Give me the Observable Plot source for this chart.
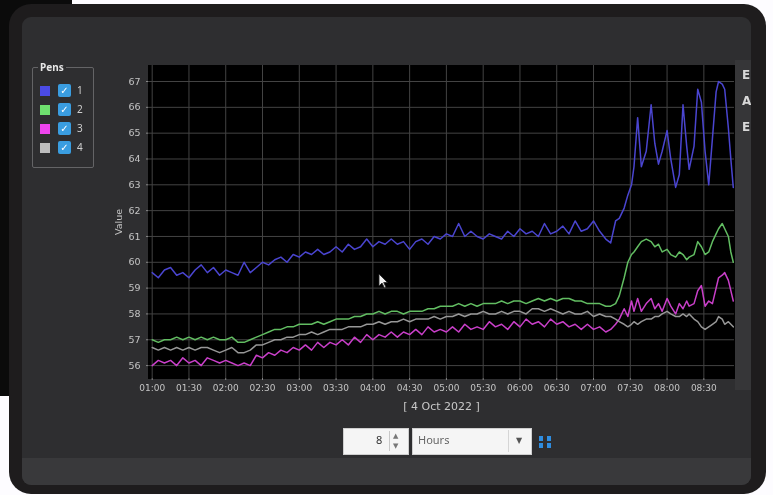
<!DOCTYPE html>
<html>
<head>
<meta charset="utf-8">
<script src="https://cdn.jsdelivr.net/npm/d3@7"></script>
<script src="https://cdn.jsdelivr.net/npm/@observablehq/plot@0.6"></script>
<style>
  html, body { margin: 0; padding: 0; background: #ffffff; }
  #root { position: relative; width: 773px; height: 495px; overflow: hidden; background: #fdfcff; font-family: "Noto Sans", "DejaVu Sans", sans-serif; filter: blur(0.35px); }
  .abs { position: absolute; }
  #behind { left: 0; top: 0; width: 72px; height: 396px; background: #0b0b0b; }
  #frame { left: 9px; top: 4px; width: 757px; height: 490px; background: #1e1c1d; border-radius: 22px; }
  #panel { left: 22px; top: 17px; width: 729px; height: 468px; background: #2e2e30; border-radius: 9px; overflow: hidden; }
  #band { left: 0; top: 441px; width: 729px; height: 27px; background: #39393b; }
  #rstrip { left: 735px; top: 60px; width: 16px; height: 330px; background: #363638; }
  #rtext { left: 742px; top: 62px; width: 9px; height: 80px; overflow: hidden; color: #d8d8d8; font: bold 12px "DejaVu Sans", sans-serif; line-height: 26px; }
  #chart { left: 0; top: 0; }
  #legend { left: 32px; top: 67px; width: 60px; height: 99px; border: 1px solid #646466; border-radius: 2px; }
  #legtitle { left: 38px; top: 61px; padding: 0 2px; background: #2e2e30; color: #e6e6e6; font: bold 10px "Noto Sans", sans-serif; line-height: 13px; }
  .sw { width: 10px; height: 10px; }
  .cb { width: 13px; height: 13px; background: #3a9de0; border-radius: 2px; color: #fff; font: bold 10px "DejaVu Sans", sans-serif; line-height: 13px; text-align: center; }
  .lb { color: #cfcfcf; font: 10px "Noto Sans", sans-serif; line-height: 13px; }
  #spin { left: 343px; top: 428px; width: 64px; height: 25px; background: #f5f5f5; border: 1px solid #cfcfcf; }
  #spinval { left: 376px; top: 432px; color: #333; font: 11px "Noto Sans", sans-serif; line-height: 16px; }
  #spinsep { left: 389px; top: 431px; width: 1px; height: 20px; background: #c8c8c8; }
  #drop { left: 412px; top: 428px; width: 118px; height: 25px; background: #f5f5f5; border: 1px solid #cfcfcf; }
  #droptxt { left: 418px; top: 432px; color: #666; font: 11px "Noto Sans", sans-serif; line-height: 16px; }
  #dropsep { left: 508px; top: 430px; width: 1px; height: 22px; background: #d5d5d5; }
  .tri { color: #777; font: 7px "DejaVu Sans", sans-serif; line-height: 8px; }
</style>
</head>
<body>
<div id="root">
  <div id="behind" class="abs"></div>
  <div id="frame" class="abs"></div>
  <div id="panel" class="abs"><div id="band" class="abs"></div></div>
  <div id="rstrip" class="abs"></div>
  <div id="rtext" class="abs">E<br>A<br>E</div>
  <div id="chart" class="abs"></div>

  <div id="legend" class="abs"></div>
  <div id="legtitle" class="abs">Pens</div>
  <div id="legrows"></div>

  <div id="spin" class="abs"></div>
  <div id="spinval" class="abs">8</div>
  <div id="spinsep" class="abs"></div>
  <div class="abs tri" style="left:393px;top:432px;">▲</div>
  <div class="abs tri" style="left:393px;top:442px;">▼</div>
  <div id="drop" class="abs"></div>
  <div id="droptxt" class="abs">Hours</div>
  <div id="dropsep" class="abs"></div>
  <div class="abs tri" style="left:516px;top:437px;color:#555;font-size:8px;">▼</div>
  <div class="abs" style="left:539px;top:436px;width:4px;height:5px;background:#2f8de0;"></div>
  <div class="abs" style="left:539px;top:443px;width:4px;height:5px;background:#2f8de0;"></div>
  <div class="abs" style="left:547px;top:436px;width:4px;height:5px;background:#2f8de0;"></div>
  <div class="abs" style="left:547px;top:443px;width:4px;height:5px;background:#2f8de0;"></div>

  <svg class="abs" style="left:378px;top:273px;" width="12" height="16" viewBox="0 0 12 16">
    <path d="M1 1 L1 13 L4 10 L6.5 15 L8 14.3 L5.7 9.5 L9.5 9.5 Z" fill="#f2f2f2" stroke="#222" stroke-width="0.8"/>
  </svg>
</div>

<script>
// ---- Data ----
const times = [
  "01:00","01:05","01:10","01:15","01:20","01:25","01:30","01:35","01:40","01:45","01:50","01:55",
  "02:00","02:05","02:10","02:15","02:20","02:25","02:30","02:35","02:40","02:45","02:50","02:55",
  "03:00","03:05","03:10","03:15","03:20","03:25","03:30","03:35","03:40","03:45","03:50","03:55",
  "04:00","04:05","04:10","04:15","04:20","04:25","04:30","04:35","04:40","04:45","04:50","04:55",
  "05:00","05:05","05:10","05:15","05:20","05:25","05:30","05:35","05:40","05:45","05:50","05:55",
  "06:00","06:05","06:10","06:15","06:20","06:25","06:30","06:35","06:40","06:45","06:50","06:55",
  "07:00","07:05","07:10",
  "07:14","07:18","07:21","07:25","07:28","07:31","07:33","07:36","07:39","07:43","07:47","07:50",
  "07:53","07:56","08:00","08:03","08:07","08:10","08:13","08:16","08:18","08:22","08:25","08:28",
  "08:31","08:34","08:37","08:40","08:42","08:45","08:47","08:50","08:52","08:54"
];

const pen1 = [
  59.6, 59.4, 59.7, 59.8, 59.5, 59.6, 59.4, 59.7, 59.9, 59.6, 59.8, 59.5,
  59.7, 59.6, 59.5, 60.0, 59.6, 59.8, 60.0, 59.9, 60.1, 60.2, 60.0, 60.3,
  60.2, 60.4, 60.3, 60.5, 60.3, 60.4, 60.6, 60.4, 60.7, 60.5, 60.6, 60.9,
  60.6, 60.8, 60.7, 60.9, 60.7, 60.8, 60.5, 60.8, 60.9, 60.7, 61.0, 60.9,
  61.1, 61.0, 61.5, 61.0, 61.2, 61.0, 60.9, 61.1, 61.0, 60.9, 61.2, 61.0,
  61.3, 61.1, 61.2, 61.0, 61.5, 61.1, 61.2, 61.4, 61.1, 61.6, 61.2, 61.3,
  61.6, 61.2, 60.9,
  60.75, 61.6, 61.7, 62.1, 62.6, 63.0, 63.7, 65.6, 63.7, 64.3, 66.1, 64.6,
  63.8, 64.3, 65.1, 64.0, 62.9, 63.4, 66.1, 64.5, 63.6, 64.5, 66.7, 66.2,
  64.3, 63.0, 64.8, 66.6, 67.0, 66.9, 66.7, 65.2, 64.0, 62.9
];

const pen2 = [
  57.0, 56.9, 57.0, 57.0, 57.1, 57.0, 57.1, 57.0, 57.1, 57.0, 57.1, 57.0,
  57.0, 57.1, 56.9, 56.9, 57.0, 57.1, 57.2, 57.3, 57.4, 57.4, 57.5, 57.5,
  57.6, 57.6, 57.6, 57.7, 57.6, 57.7, 57.8, 57.8, 57.8, 57.9, 57.9, 58.0,
  58.0, 58.1, 58.0, 58.1, 58.1, 58.0, 58.1, 58.1, 58.1, 58.2, 58.2, 58.3,
  58.3, 58.3, 58.4, 58.3, 58.4, 58.3, 58.4, 58.4, 58.4, 58.5, 58.4, 58.5,
  58.5, 58.4, 58.5, 58.6, 58.5, 58.6, 58.5, 58.6, 58.6, 58.5, 58.5, 58.4,
  58.4, 58.4, 58.3,
  58.3, 58.4, 58.7, 59.4, 60.0, 60.3, 60.4, 60.6, 60.8, 60.9, 60.8, 60.6,
  60.7, 60.4, 60.5, 60.3, 60.2, 60.4, 60.3, 60.1, 60.2, 60.3, 60.8, 60.6,
  60.3, 60.4, 60.8, 61.1, 61.3, 61.5, 61.3, 61.0, 60.4, 60.0
];

const pen3 = [
  56.0, 56.2, 56.1, 56.2, 56.0, 56.3, 56.1, 56.2, 56.0, 56.3, 56.2, 56.1,
  56.2, 56.1, 56.0, 56.1, 56.0, 56.4, 56.3, 56.5, 56.4, 56.6, 56.5, 56.7,
  56.6, 56.8, 56.6, 56.9, 56.7, 56.9, 56.8, 57.0, 56.8, 57.1, 56.9, 57.2,
  57.0, 57.2, 57.1, 57.3, 57.1, 57.3, 57.2, 57.4, 57.2, 57.5, 57.3, 57.4,
  57.3, 57.5, 57.3, 57.6, 57.4, 57.5, 57.4, 57.7, 57.5, 57.6, 57.4, 57.7,
  57.5, 57.8, 57.6, 57.7, 57.5, 57.8, 57.6, 57.7, 57.5, 57.6, 57.4, 57.6,
  57.4, 57.5, 57.3,
  57.4, 57.6, 57.8, 58.2, 57.9, 58.5, 58.1, 58.6, 58.1, 58.4, 58.6, 58.2,
  58.4, 58.1, 58.6, 58.3, 58.0, 58.4, 58.2, 58.5, 58.3, 58.4, 58.9, 59.1,
  58.3, 58.5, 58.4, 59.0, 59.4, 59.5, 59.6, 59.3, 58.9, 58.5
];

const pen4 = [
  56.7, 56.6, 56.7, 56.6, 56.7, 56.6, 56.7, 56.6, 56.7, 56.7, 56.6, 56.5,
  56.6, 56.7, 56.5, 56.5, 56.6, 56.8, 56.8, 56.9, 57.0, 57.0, 57.1, 57.1,
  57.2, 57.2, 57.3, 57.2, 57.3, 57.4, 57.4, 57.4, 57.5, 57.5, 57.5, 57.6,
  57.6, 57.7, 57.6, 57.7, 57.7, 57.8, 57.7, 57.8, 57.8, 57.8, 57.9, 57.8,
  57.9, 57.9, 58.0, 57.9, 58.0, 58.0, 58.1, 58.0, 58.0, 58.1, 58.0, 58.1,
  58.1, 58.0, 58.2, 58.2, 58.1, 58.2, 58.1, 58.0, 58.1, 58.0, 58.0, 58.1,
  57.9, 58.0, 57.9,
  57.9, 57.8, 57.7, 57.6, 57.5, 57.6, 57.7, 57.6, 57.7, 57.8, 57.8, 57.9,
  57.9, 58.0, 58.1, 58.0, 57.9, 57.9, 58.0, 57.9, 58.0, 57.8, 57.7, 57.5,
  57.4, 57.5, 57.6, 57.7, 57.9, 57.8, 57.6, 57.7, 57.6, 57.5
];

const penNames = ["1", "2", "3", "4"];
const lineColors = ["#4a45d0", "#62bd62", "#c93fc9", "#979797"];
const swatchColors = ["#4b4be6", "#6fe06f", "#ee44ee", "#bdbdbd"];

const xTickLabels = ["01:00","01:30","02:00","02:30","03:00","03:30","04:00","04:30",
                     "05:00","05:30","06:00","06:30","07:00","07:30","08:00","08:30"];
const yTicks = [56, 57, 58, 59, 60, 61, 62, 63, 64, 65, 66, 67];
const xDomainLabels = ["00:57", "08:55"];
const yDomain = [55.5, 67.62];
const dateLabel = "[ 4 Oct 2022 ]";
const yLabel = "Value";

// ---- Build ----
const parseT = s => { const [h, m] = s.split(":").map(Number); return new Date(Date.UTC(2022, 9, 4, h, m)); };
const series = [pen1, pen2, pen3, pen4];
series.forEach((s, i) => { if (s.length !== times.length) console.error("length mismatch pen" + (i+1), s.length, times.length); });
const tables = series.map(vals => times.map((t, i) => ({time: parseT(t), value: vals[i]})).filter(d => d.value != null));
const xTicks = xTickLabels.map(parseT);

const chart = Plot.plot({
  width: 773,
  height: 420,
  marginLeft: 148,
  marginRight: 39,
  marginTop: 65,
  marginBottom: 42,
  style: {background: "transparent", color: "#c4c4c4", fontFamily: "'DejaVu Sans', sans-serif", fontSize: "9px"},
  x: {type: "utc", domain: xDomainLabels.map(parseT)},
  y: {domain: yDomain},
  marks: [
    Plot.frame({fill: "#000000", stroke: "#000000"}),
    Plot.gridX(xTicks, {stroke: "#434343", strokeOpacity: 1}),
    Plot.gridY(yTicks, {stroke: "#434343", strokeOpacity: 1}),
    ...tables.map((tab, i) => Plot.line(tab, {x: "time", y: "value", stroke: lineColors[i], strokeWidth: 1.5})),
    Plot.axisX(xTicks, {tickFormat: d3.utcFormat("%H:%M"), tickSize: 2, tickPadding: 4, stroke: "#888",
                        label: null, fontSize: 9}),
    Plot.text([dateLabel], {frameAnchor: "bottom", dy: 31, fontSize: 11, fill: "#c8c8c8"}),
    Plot.axisY(yTicks, {tickSize: 2, tickPadding: 6, stroke: "#888",
                        label: yLabel, labelAnchor: "center", labelArrow: "none", labelOffset: 33, fontSize: 9.5})
  ]
});
document.getElementById("chart").appendChild(chart);

// legend rows
const legrows = document.getElementById("legrows");
const rowTops = [86, 105, 124, 143];
penNames.forEach((n, i) => {
  const top = rowTops[i];
  legrows.insertAdjacentHTML("beforeend",
    `<div class="abs sw" style="left:40px;top:${top}px;background:${swatchColors[i]};"></div>
     <div class="abs cb" style="left:58px;top:${top - 2}px;">✓</div>
     <div class="abs lb" style="left:77px;top:${top - 2}px;">${n}</div>`);
});
</script>
</body>
</html>
